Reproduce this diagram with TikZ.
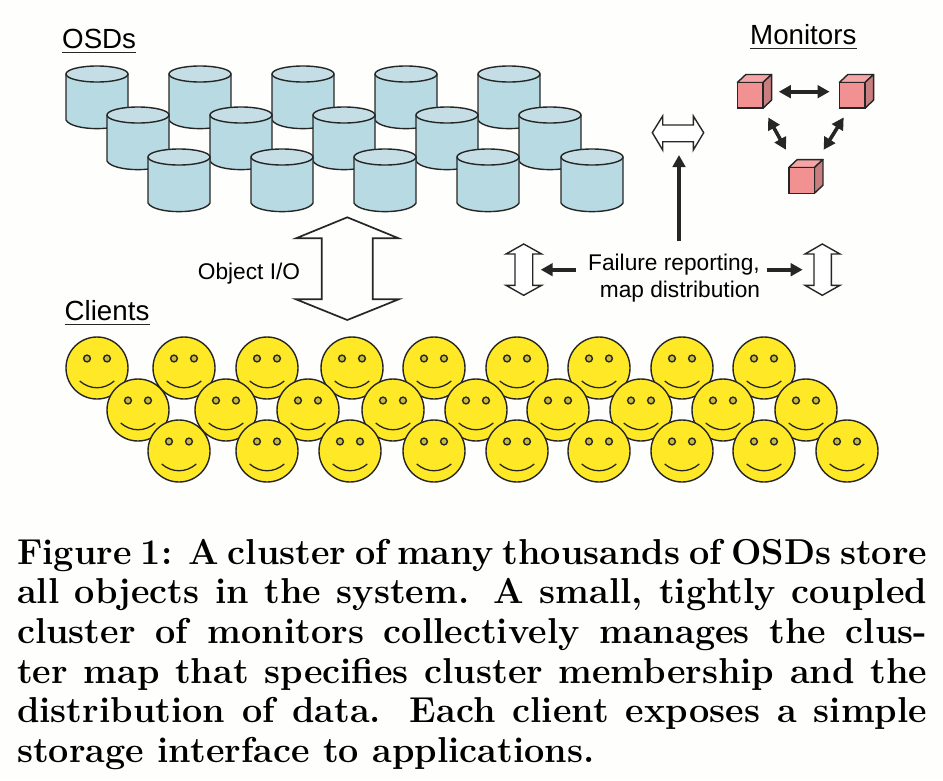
\documentclass[tikz,border=0pt]{standalone}
\usepackage{fontspec}
\usetikzlibrary{arrows.meta}
\newfontfamily\arialf{Liberation Sans}
\definecolor{bgc}{HTML}{FEFEFC}
\definecolor{ink}{HTML}{262626}
\definecolor{cylbody}{HTML}{B7DAE3}
\definecolor{cyltop}{HTML}{C5DEE5}
\definecolor{facey}{HTML}{FFE927}
\definecolor{eyey}{HTML}{C9BC3C}
\definecolor{cubef}{HTML}{F29191}
\definecolor{cubet}{HTML}{F5A5A5}
\definecolor{cubes}{HTML}{C87E7E}
\tikzset{
  outline/.style={draw=ink,line width=1.4pt,line join=round},
  heading/.style={font=\arialf\fontsize{27.7}{30}\selectfont,inner sep=0pt,anchor=base west,text=black},
  label/.style={font=\arialf\fontsize{22.7}{27}\selectfont,inner sep=0pt,text=black},
  headrule/.style={draw=ink,line width=1.3pt},
  hollow/.style={draw=ink,line width=1.4pt,fill=white,line join=miter},
  bigarrow/.style={draw=ink,line width=1.7pt,fill=bgc,line join=miter},
  solidarrow/.style={draw=ink,line width=3.6pt,{Triangle[length=12pt,width=12.5pt]}-{Triangle[length=12pt,width=12.5pt]}},
  onearrow/.style={draw=ink,line width=3.8pt,-{Triangle[length=12pt,width=12.5pt]}},
  capline/.style={inner sep=0pt,anchor=base west,font=\fontsize{36}{39.7}\selectfont\bfseries,text=black},
  cubefront/.style={draw=ink,line width=1.5pt,fill=cubef,minimum width=25.7pt,minimum height=25.7pt,inner sep=0pt}
}
\newcommand{\cyl}[2]{%
  \path[outline,fill=cylbody] (#1,#2+8) -- (#1,#2+54)
    .. controls (#1+6,#2+65.5) and (#1+56,#2+65.5) .. (#1+62,#2+54) -- (#1+62,#2+8) -- cycle;
  \path[outline,fill=cyltop] (#1+31,#2+8) ellipse [x radius=31,y radius=8];
}
\newcommand{\face}[2]{%
  \path[outline,fill=facey] (#1,#2) circle [radius=31];
  \path[draw=ink,line width=1.4pt,fill=eyey] (#1-10,#2-9.5) circle [radius=3.4] (#1+10,#2-9.5) circle [radius=3.4];
  \path[draw=ink,line width=1.3pt] (#1-17.3,#2+13) .. controls (#1-7,#2+22) and (#1+7,#2+22) .. (#1+17.3,#2+13);
}
\newcommand{\cube}[3]{%
  \path[outline,fill=cubet] (#2-12.85,#3-12.85) -- (#2-4.35,#3-20.85) -- (#2+21.35,#3-20.85) -- (#2+12.85,#3-12.85) -- cycle;
  \path[outline,fill=cubes] (#2+12.85,#3-12.85) -- (#2+21.35,#3-20.85) -- (#2+21.35,#3+4.85) -- (#2+12.85,#3+12.85) -- cycle;
  \node[cubefront] (#1) at (#2,#3) {};
}
\begin{document}
\begin{tikzpicture}[x=1pt,y=-1pt]
\useasboundingbox (0,0) rectangle (943,780);
\fill[bgc] (0,0) rectangle (943,780);
% OSDs
\foreach \x in {66,169,272,375,478} {\cyl{\x}{66}}
\foreach \x in {107,210,313,416,519} {\cyl{\x}{107}}
\foreach \x in {148,251,354,457,561} {\cyl{\x}{149}}
% Clients
\foreach \x in {97,184,267,352,434,517,599,682,764} {\face{\x}{368}}
\foreach \x in {138,226,308,393,476,558,641,723,806} {\face{\x}{410}}
\foreach \x in {179,267,350,434,517,599,682,764,847} {\face{\x}{451}}
% Headings
\node[heading] (osds) at (62,48.3) {OSDs};
\node[heading] (monitors) at (750,44.3) {Monitors};
\node[heading] (clients) at (64.5,320.7) {Clients};
\draw[headrule] ([yshift=-4.5pt]osds.base west) -- ([yshift=-4.5pt]osds.base east);
\draw[headrule] ([yshift=-4pt]monitors.base west) -- ([yshift=-4pt]monitors.base east);
\draw[headrule] ([yshift=-3.5pt]clients.base west) -- ([yshift=-3.5pt]clients.base east);
% Monitors
\cube{cubeA}{750.2}{95.3}
\cube{cubeB}{852.2}{95.3}
\cube{cubeC}{801.6}{180.4}
\draw[solidarrow] ([shift={(15,-3.6)}]cubeA.east) -- ([shift={(-9,-3.6)}]cubeB.west);
\draw[solidarrow] ([shift={(18,8.5)}]cubeA.south) -- ([shift={(-15.6,-17)}]cubeC.north);
\draw[solidarrow] ([shift={(-8.5,8.5)}]cubeB.south) -- ([shift={(22,-17)}]cubeC.north);
% Big arrow
\node[label,anchor=base] (objio) at (249,279) {Object I/O};
\path[bigarrow] (347.3,217.3) -- (398.7,238.3) -- (372.7,238.3) -- (372.7,299.3) -- (398.7,299.3)
  -- (347.3,320) -- (296,299.3) -- (321.7,299.3) -- (321.7,238.3) -- (296,238.3) -- cycle;
% Small hollow arrows
\path[hollow] (652.3,132.7) -- (662.7,116) -- (662.7,125) -- (693.3,125) -- (693.3,116) -- (703.7,132.7)
  -- (693.3,150) -- (693.3,141.7) -- (662.7,141.7) -- (662.7,150) -- cycle;
\path[hollow] (523.7,244) -- (541.7,254) -- (532.7,254) -- (532.7,285.3) -- (541.7,285.3) -- (523.7,295.3)
  -- (506,285.3) -- (515,285.3) -- (515,254) -- (506,254) -- cycle;
\path[hollow] (822.3,244) -- (840,254) -- (831.3,254) -- (831.3,285.3) -- (840,285.3) -- (822.3,295.3)
  -- (805,285.3) -- (814,285.3) -- (814,254) -- (805,254) -- cycle;
\coordinate (hubtop) at (679,155);
\coordinate (hubleft) at (540.7,269.7);
\coordinate (hubright) at (802.7,269.7);
% Failure label
\node[label,align=center] (fail) at (674,278.5) {Failure reporting,\\\hspace*{12pt}map distribution};
\draw[onearrow] (hubtop |- fail.north) ++(0,-13) -- (hubtop);
\draw[onearrow] (fail.west |- hubleft) ++(-12,0) -- (hubleft);
\draw[onearrow] (fail.east |- hubright) ++(7,0) -- (hubright);
% Caption
\node[capline] (cap1) at (17,564) {\makebox[910pt][s]{Figure 1: A cluster of many thousands of OSDs store}};
\node[capline] (cap2) at (17,603.7) {\makebox[910pt][s]{all objects in the system. A small, tightly coupled}};
\node[capline] (cap3) at (17,643.4) {\makebox[910pt][s]{cluster of monitors collectively manages the clus-}};
\node[capline] (cap4) at (17,683.1) {\makebox[910pt][s]{ter map that specifies cluster membership and the}};
\node[capline] (cap5) at (17,722.8) {\makebox[910pt][s]{distribution of data. Each client exposes a simple}};
\node[capline] (cap6) at (17,762.5) {storage interface to applications.};
\end{tikzpicture}
\end{document}
